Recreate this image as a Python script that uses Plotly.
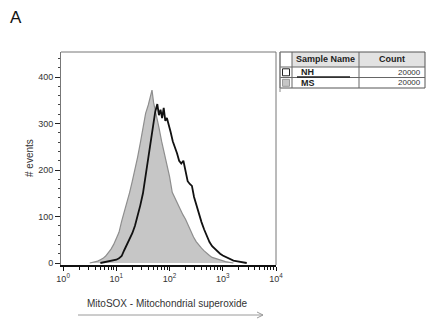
import plotly.graph_objects as go

# ---------------- data ----------------
# bin centres in decades (log10 of MitoSOX intensity)
ms_log_bins = [0.50, 0.55, 0.60, 0.65, 0.70, 0.75, 0.80, 0.85, 0.90, 0.95,
               1.00, 1.05, 1.10, 1.15, 1.20, 1.25, 1.30, 1.35, 1.40, 1.45,
               1.50, 1.55, 1.60, 1.63, 1.67, 1.70, 1.75, 1.80, 1.85, 1.90,
               1.95, 2.00, 2.05, 2.10, 2.15, 2.20, 2.25, 2.30, 2.35, 2.40,
               2.45, 2.50, 2.55, 2.60, 2.65, 2.70, 2.75, 2.80, 2.85, 2.90,
               2.95, 3.00, 3.05, 3.10, 3.15, 3.20]
ms_counts = [0, 1, 2, 4, 7, 10, 15, 22, 30, 40,
             52, 66, 90, 110, 130, 152, 176, 200, 228, 258,
             292, 322, 340, 352, 372, 345, 320, 292, 262, 236,
             210, 186, 152, 140, 126, 115, 104, 94, 80, 68,
             56, 46, 38, 32, 26, 20, 16, 12, 10, 8,
             6, 4, 3, 2, 1, 0]

nh_log_bins = [0.70, 0.75, 0.80, 0.85, 0.90, 0.95, 1.00, 1.05, 1.10, 1.15,
               1.20, 1.25, 1.30, 1.35, 1.40, 1.45, 1.50, 1.55, 1.60, 1.65,
               1.70, 1.73, 1.77, 1.80, 1.83, 1.86, 1.89, 1.92, 1.95, 1.98,
               2.02, 2.06, 2.10, 2.14, 2.18, 2.22, 2.26, 2.30, 2.34, 2.38,
               2.42, 2.46, 2.50, 2.55, 2.60, 2.65, 2.70, 2.75, 2.80, 2.85,
               2.90, 2.95, 3.00, 3.05, 3.10, 3.15, 3.20, 3.25, 3.30, 3.35,
               3.40, 3.45]
nh_counts = [0, 1, 2, 3, 4, 5, 7, 10, 15, 28,
             40, 52, 64, 80, 100, 124, 150, 190, 228, 268,
             305, 325, 342, 318, 330, 312, 334, 306, 312, 296,
             282, 262, 250, 236, 220, 214, 220, 198, 176, 170,
             166, 142, 126, 108, 88, 72, 58, 45, 36, 30,
             25, 20, 16, 13, 10, 7, 5, 4, 3, 2,
             1, 0]

sample_names = ["NH", "MS"]
sample_counts = ["20000", "20000"]
table_headers = ["Sample Name", "Count"]

x_tick_values = [1, 10, 100, 1000, 10000]
x_tick_labels = ["10<sup>0</sup>", "10<sup>1</sup>", "10<sup>2</sup>",
                 "10<sup>3</sup>", "10<sup>4</sup>"]
y_tick_values = [0, 100, 200, 300, 400]

x_title = "MitoSOX - Mitochondrial superoxide"
y_title = "# events"
panel_label = "A"

# ---------------- figure ----------------
W, H = 427, 324
L, R, T, B = 61, 276, 52, 265          # plot area in pixels


def xp(px):
    return (px - L) / (R - L)


def yp(py):
    return (B - py) / (B - T)


FONT = "Liberation Sans, Arial, sans-serif"
GREY_FILL = "#c6c6c6"
GREY_LINE = "#8e8e8e"
TEXT = "#333333"

fig = go.Figure()
fig.add_trace(go.Scatter(
    x=[10 ** v for v in ms_log_bins], y=ms_counts, mode="lines",
    fill="tozeroy", fillcolor=GREY_FILL,
    line=dict(color=GREY_LINE, width=1.2), name="MS", showlegend=False,
    hoverinfo="skip"))
fig.add_trace(go.Scatter(
    x=[10 ** v for v in nh_log_bins], y=nh_counts, mode="lines",
    line=dict(color="#111111", width=1.8), name="NH", showlegend=False,
    hoverinfo="skip"))

minor_x = [m * d for d in x_tick_values[:-1] for m in range(2, 10)]

fig.update_xaxes(
    type="log", range=[-0.04, 4.0],
    tickmode="array", tickvals=x_tick_values, ticktext=x_tick_labels,
    ticks="outside", ticklen=4, tickwidth=1.4, tickcolor="#111",
    minor=dict(tickmode="array", tickvals=minor_x, ticks="outside",
               ticklen=3, tickwidth=1, tickcolor="#111", showgrid=False),
    showline=True, linecolor="#111", linewidth=2,
    showgrid=False, zeroline=False,
    tickfont=dict(family=FONT, size=9, color=TEXT),
)
fig.update_yaxes(
    range=[-4.3, 454],
    tickmode="array", tickvals=y_tick_values,
    ticks="outside", ticklen=5, tickwidth=1.4, tickcolor="#222",
    minor=dict(dtick=20, tick0=0, ticks="outside", ticklen=2.5,
               tickwidth=1, tickcolor="#444", showgrid=False),
    showline=True, linecolor="#777", linewidth=1,
    showgrid=False, zeroline=False,
    tickfont=dict(family=FONT, size=9, color=TEXT),
)

shapes = []
# top and right frame
shapes.append(dict(type="line", xref="paper", yref="paper",
                   x0=0, x1=1, y0=1, y1=1, line=dict(color="#777", width=1)))
shapes.append(dict(type="line", xref="paper", yref="paper",
                   x0=1, x1=1, y0=0, y1=1, line=dict(color="#777", width=1)))

# arrow under the x title
ay = 315
shapes.append(dict(type="line", xref="paper", yref="paper",
                   x0=xp(78), x1=xp(263), y0=yp(ay), y1=yp(ay),
                   line=dict(color="#9a9a9a", width=1)))
for dy in (-3, 3):
    shapes.append(dict(type="line", xref="paper", yref="paper",
                       x0=xp(257), x1=xp(263), y0=yp(ay + dy), y1=yp(ay),
                       line=dict(color="#9a9a9a", width=1)))

# ---- sample table ----
tx0, tx1, tcb, tcn = 280, 425, 292, 359
ty = [52, 67, 77.5, 88]
shapes.append(dict(type="rect", xref="paper", yref="paper",
                   x0=xp(tcb), x1=xp(tx1), y0=yp(ty[1]), y1=yp(ty[0]),
                   fillcolor="#e2e2e2", line=dict(width=0), layer="below"))
shapes.append(dict(type="rect", xref="paper", yref="paper",
                   x0=xp(tx0), x1=xp(tx1), y0=yp(ty[3]), y1=yp(ty[0]),
                   line=dict(color="#555", width=1)))
for yy in ty[1:3]:
    shapes.append(dict(type="line", xref="paper", yref="paper",
                       x0=xp(tx0), x1=xp(tx1), y0=yp(yy), y1=yp(yy),
                       line=dict(color="#666", width=1)))
for xx in (tcb, tcn):
    shapes.append(dict(type="line", xref="paper", yref="paper",
                       x0=xp(xx), x1=xp(xx), y0=yp(ty[3]), y1=yp(ty[0]),
                       line=dict(color="#666", width=1)))
shapes.append(dict(type="line", xref="paper", yref="paper",
                   x0=xp(tx0), x1=xp(tx0), y0=yp(92), y1=yp(ty[0]),
                   line=dict(color="#888", width=1)))
# NH line sample under the name
shapes.append(dict(type="line", xref="paper", yref="paper",
                   x0=xp(297), x1=xp(350), y0=yp(77), y1=yp(77),
                   line=dict(color="#222", width=1.3)))
# check boxes
box_styles = [("white", "#222"), (GREY_FILL, "#999")]
for i, (fc, lc) in enumerate(box_styles):
    top = ty[1 + i] + 1.8
    shapes.append(dict(type="rect", xref="paper", yref="paper",
                       x0=xp(282.5), x1=xp(289.5), y0=yp(top + 7), y1=yp(top),
                       fillcolor=fc, line=dict(color=lc, width=1)))

annotations = []
annotations.append(dict(text=panel_label, x=xp(16), y=yp(17), xref="paper",
                        yref="paper", showarrow=False, xanchor="center",
                        yanchor="middle",
                        font=dict(family=FONT, size=17, color="#111")))
annotations.append(dict(text=y_title, x=xp(29), y=yp(158), xref="paper",
                        yref="paper", showarrow=False, textangle=-90,
                        xanchor="center", yanchor="middle",
                        font=dict(family=FONT, size=10, color=TEXT)))
annotations.append(dict(text=x_title, x=xp(167), y=yp(303), xref="paper",
                        yref="paper", showarrow=False, xanchor="center",
                        yanchor="middle",
                        font=dict(family=FONT, size=10, color=TEXT)))
# table header
annotations.append(dict(text="<b>%s</b>" % table_headers[0], x=xp((tcb + tcn) / 2),
                        y=yp(59.5), xref="paper", yref="paper",
                        showarrow=False, xanchor="center", yanchor="middle",
                        font=dict(family=FONT, size=9, color="#222")))
annotations.append(dict(text="<b>%s</b>" % table_headers[1], x=xp((tcn + tx1) / 2),
                        y=yp(59.5), xref="paper", yref="paper",
                        showarrow=False, xanchor="center", yanchor="middle",
                        font=dict(family=FONT, size=9, color="#222")))
for i, (nm, ct) in enumerate(zip(sample_names, sample_counts)):
    yc = (ty[1 + i] + ty[2 + i]) / 2
    annotations.append(dict(text="<b>%s</b>" % nm, x=xp(299), y=yp(yc),
                            xref="paper", yref="paper", showarrow=False,
                            xanchor="left", yanchor="middle",
                            font=dict(family=FONT, size=9, color="#222")))
    annotations.append(dict(text=ct, x=xp(423), y=yp(yc),
                            xref="paper", yref="paper", showarrow=False,
                            xanchor="right", yanchor="middle",
                            font=dict(family=FONT, size=8, color=TEXT)))

fig.update_layout(
    width=W, height=H,
    margin=dict(l=L, r=W - R, t=T, b=H - B, pad=0),
    paper_bgcolor="white", plot_bgcolor="white",
    shapes=shapes, annotations=annotations,
    font=dict(family=FONT),
)

fig.write_html("out.html")
